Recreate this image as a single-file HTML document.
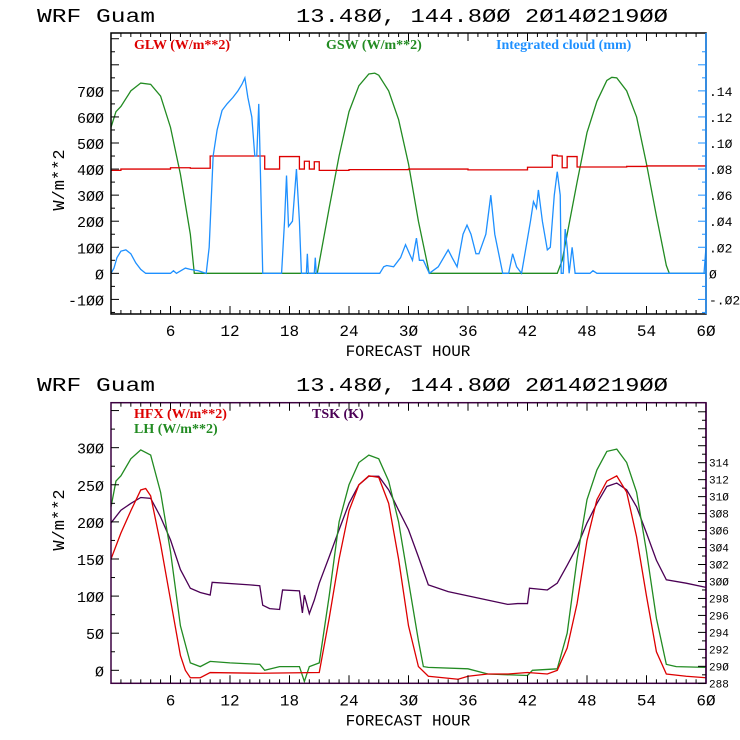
<!DOCTYPE html>
<html><head><meta charset="utf-8"><style>
html,body{margin:0;padding:0;background:#fff;}
svg{display:block;}
text{font-family:"Liberation Mono",monospace;}
.lg{font-family:"Liberation Serif",serif;font-weight:bold;font-size:14px;}
</style></head><body>
<svg id="c" width="740" height="740" viewBox="0 0 740 740" xmlns="http://www.w3.org/2000/svg"></svg>
<script>
// ---- Top chart data ----
const gswHours = [0,0.5,1,2,3,4,5,6,7,8,8.4,20.8,22,23,24,25,26,26.6,27,28,29,30,31,32.1,45,45.5,46,47,48,49,50,50.5,51,52,53,54,55,56,56.3,60];
const gswVals  = [560,620,640,700,730,725,680,560,380,150,0,0,250,450,620,720,765,768,760,700,590,420,200,0,0,50,150,350,540,660,740,752,750,700,600,420,220,30,0,0];
const glwHours = [0,1,6,8,10,15.5,17,19,19.5,20,20.5,21,24,30,36,42,44.5,45,45.5,46,47,52,54,60];
const glwVals  = [395,400,405,403,450,400,448,400,430,400,428,395,398,400,397,407,453,450,405,448,408,410,412,410];
const cloudHours = [0,0.3,0.6,1,1.5,2,2.5,3,3.5,6,6.3,6.6,7.5,8,8.8,9.6,9.9,10.3,10.7,11.2,11.7,12.3,12.8,13.2,13.5,13.8,14.2,14.5,14.7,14.9,15.0,15.3,17.2,17.5,17.7,17.9,18.3,18.7,19.0,19.2,19.7,19.8,19.9,20.2,20.5,20.6,20.7,27.1,27.5,27.8,28.5,29.2,29.7,30.1,30.4,30.8,31.1,31.5,32.1,33,34,34.4,34.9,35.5,35.9,36.3,36.8,37.1,37.8,38.3,38.7,39.5,40.1,40.5,40.9,41.4,42.3,42.6,42.9,43.1,43.5,44,44.3,44.7,45,45.3,45.4,45.6,45.8,46.0,46.2,46.5,46.8,48.3,48.6,49,59.6,59.8,60];
const cloudVals  = [0,0.004,0.012,0.017,0.018,0.015,0.008,0.003,0,0,0.002,0,0.004,0.003,0.002,0,0.02,0.09,0.11,0.125,0.13,0.135,0.14,0.145,0.15,0.135,0.12,0.09,0.09,0.13,0.1,0,0,0.04,0.075,0.036,0.04,0.08,0.04,0,0,0.015,0,0,0,0.012,0,0,0.005,0.006,0.005,0.012,0.022,0.015,0.01,0.027,0.01,0.01,0,0.005,0.018,0.012,0.005,0.03,0.037,0.03,0.015,0.015,0.03,0.06,0.03,0,0,0.015,0.005,0,0.04,0.055,0.05,0.064,0.04,0.018,0.02,0.06,0.078,0.06,0,0,0.034,0.02,0,0.02,0,0,0.002,0,0,0,0.02,0];
const topLeftTicks = [-100,0,100,200,300,400,500,600,700];
const topRightTicks = [-0.02,0,0.02,0.04,0.06,0.08,0.10,0.12,0.14];
const topRightLabels = ["-.02","0",".02",".04",".06",".08",".10",".12",".14"];
// ---- Bottom chart data ----
const hfxHours = [0,1,2,3,3.5,4,5,6,7,7.5,8,9,10,15,21,22,23,24,25,26,27,28,29,30,31,32,35,36,38,40,42,44,45,46,47,48,49,50,51,52,53,54,55,56,58,60];
const hfxVals  = [150,185,215,243,245,235,170,95,20,0,-10,-10,-3,-4,-3,70,150,215,250,262,260,225,150,60,5,-8,-12,-8,-5,-5,-3,-5,0,30,90,175,230,255,262,240,180,100,25,-5,-8,-10];
const lhHours = [0,0.5,1,2,3,4,5,6,7,8,9,10,12,15,15.5,17,19,19.5,20,21,22,23,24,25,26,27,28,29,30,31,31.5,32,36,38,42,42.5,45,46,47,48,49,50,51,52,53,54,55,56,57,60];
const lhVals  = [220,255,262,285,297,290,240,160,60,10,5,12,10,8,0,5,5,-15,5,10,100,200,250,280,290,285,255,200,120,40,5,4,2,-5,-7,0,2,50,150,230,270,295,298,280,240,160,70,8,5,4];
const tskHours = [0,1,2,3,4,5,6,7,8,9,10,10.2,14,15,15.3,16,17,17.3,19,19.3,19.5,20,20.5,21,22,23,24,25,26,27,28,29,30,31,32,34,36,38,40,41,42,42.2,44,45,46,47,48,49,50,51,52,53,54,55,56,58,60];
const tskVals  = [306.9,308.4,309.2,309.9,309.8,307.6,304.9,301.4,299.2,298.7,298.4,299.9,299.6,299.5,297.2,296.8,296.7,299.0,298.9,296.3,298.4,296.2,297.8,299.8,302.9,306.1,309.2,311.4,312.4,312.4,310.8,308.4,306.1,302.9,299.6,298.8,298.3,297.8,297.3,297.4,297.4,299.2,299.0,299.8,301.9,304.1,306.9,309.2,311.2,311.6,310.8,308.8,305.7,302.5,300.2,299.8,299.3];
const botLeftTicks = [0,50,100,150,200,250,300];
const botRightTicks = [288,290,292,294,296,298,300,302,304,306,308,310,312,314];
const xTicks = [6,12,18,24,30,36,42,48,54,60];

const NS="http://www.w3.org/2000/svg";
const svg=document.getElementById('c');
function el(tag,attrs,parent){const e=document.createElementNS(NS,tag);for(const k in attrs)e.setAttribute(k,attrs[k]);(parent||svg).appendChild(e);return e;}
function txt(s,x,y,attrs,parent){const t=el('text',Object.assign({x:x,y:y},attrs),parent);t.textContent=s;return t;}

const X0=111,X1=706;
function xs(h){return X0+(X1-X0)*h/60;}

function chart(top,bottom,lmin,lmax,rmin,rmax,frameColor,rightColor,name){
  const g=el('g',{});
  
  
  const ly=v=>bottom-(v-lmin)/(lmax-lmin)*(bottom-top);
  const ry=v=>bottom-(v-rmin)/(rmax-rmin)*(bottom-top);
  return {g,ly,ry,top,bottom,frameColor,rightColor};
}
function frame(c){
  const f=el('rect',{x:X0,y:c.top,width:X1-X0,height:c.bottom-c.top,fill:'none',stroke:c.frameColor,'stroke-width':1.5},c.g);
  
  
  el('line',{x1:X1,y1:c.top,x2:X1,y2:c.bottom,stroke:c.rightColor,'stroke-width':1.5},c.g);
  for(let h=1;h<60;h++){
    const L=(h%6===0)?8:4;
    el('line',{x1:xs(h),y1:c.bottom,x2:xs(h),y2:c.bottom-L,stroke:'#000'},c.g);
    el('line',{x1:xs(h),y1:c.top,x2:xs(h),y2:c.top+L,stroke:'#000'},c.g);
  }
  xTicks.forEach(h=>{const t=txt(String(h).replace(/0/g,'Ø'),xs(h),c.bottom+22,{'font-size':16,'text-anchor':'middle',fill:'#000'},c.g);
    });
  const xt=txt('FORECAST HOUR',408,c.bottom+42,{'font-size':16,'text-anchor':'middle',fill:'#000'},c.g);
  
}
function line(c,hs,vs,yf,color,step,name){
  let d='';
  for(let i=0;i<hs.length;i++){
    const x=xs(hs[i]),y=yf(vs[i]);
    if(i===0)d+='M'+x+' '+y;
    else if(step)d+='H'+x+'V'+y;
    else d+='L'+x+' '+y;
  }
  if(step)d+='H'+xs(60);
  const p=el('path',{d:d,fill:'none',stroke:color,'stroke-width':1.3},c.g);
  
  
}
function title(y){
  const a=txt('WRF  Guam',37,y,{'font-size':19,fill:'#000','xml:space':'preserve','textLength':118,'lengthAdjust':'spacingAndGlyphs'});
  
  const b=txt('13.48Ø, 144.8ØØ  2Ø14Ø219ØØ',296,y,{'font-size':19,fill:'#000','xml:space':'preserve','textLength':372,'lengthAdjust':'spacingAndGlyphs'});
  
}
function ylabel(x,y){
  const t=txt('W/m**2',x,y,{'font-size':17,fill:'#000','text-anchor':'middle',transform:'rotate(-90 '+x+' '+y+')'});
  
}

// Top chart
title(22);
const c1=chart(33,314,-156,922,-0.0312,0.1844,'#000','#1e90ff','top-chart');
line(c1,gswHours,gswVals,c1.ly,'#228b22',false,'gsw-line');
line(c1,glwHours,glwVals,c1.ly,'#dd0000',true,'glw-line');
line(c1,cloudHours,cloudVals,c1.ry,'#1e90ff',false,'cloud-line');
frame(c1);
for(let v=-150;v<=900;v+=50){const y=c1.ly(v);el('line',{x1:X0,y1:y,x2:X0+(v%100===0?8:4),y2:y,stroke:'#000'},c1.g);}
topLeftTicks.forEach(v=>{const t=txt(String(v).replace(/0/g,'Ø'),104,c1.ly(v)+6,{'font-size':15,'text-anchor':'end',fill:'#000'},c1.g);
  });
for(let v=-0.03;v<=0.18;v+=0.01){const y=c1.ry(v);const maj=Math.round(v*100)%2===0;el('line',{x1:X1,y1:y,x2:X1-(maj?8:4),y2:y,stroke:'#1e90ff'},c1.g);}
topRightTicks.forEach((v,i)=>{const t=txt(topRightLabels[i].replace(/0/g,'Ø'),709,c1.ry(v)+5,{'font-size':13,fill:'#000'},c1.g);
  });
ylabel(64,180);
[['GLW (W/m**2)',134,'#dd0000','legend-glw'],['GSW (W/m**2)',326,'#228b22','legend-gsw'],['Integrated cloud (mm)',496,'#1e90ff','legend-cloud']].forEach(a=>{
  const t=txt(a[0],a[1],49,{'class':'lg',fill:a[2]},c1.g);});

// Bottom chart
title(391);
const c2=chart(402.7,683.3,-17.5,360.6,288,321.06,'#3c0040','#3c0040','bottom-chart');
c2.ry=v=>683.3-(v-288)*16.97/2;
line(c2,tskHours,tskVals,c2.ry,'#4b0055',false,'tsk-line');
line(c2,lhHours,lhVals,c2.ly,'#228b22',false,'lh-line');
line(c2,hfxHours,hfxVals,c2.ly,'#dd0000',false,'hfx-line');
frame(c2);
for(let v=0;v<=350;v+=25){const y=c2.ly(v);el('line',{x1:X0,y1:y,x2:X0+(v%50===0?8:4),y2:y,stroke:'#000'},c2.g);}
botLeftTicks.forEach(v=>{const t=txt(String(v).replace(/0/g,'Ø'),104,c2.ly(v)+6,{'font-size':15,'text-anchor':'end',fill:'#000'},c2.g);
  });
for(let v=288;v<=320;v+=1){const y=c2.ry(v);el('line',{x1:X1,y1:y,x2:X1-(v%2===0?8:4),y2:y,stroke:'#000'},c2.g);}
botRightTicks.forEach(v=>{const t=txt(String(v).replace(/0/g,'Ø'),709,c2.ry(v)+4,{'font-size':11,fill:'#000'},c2.g);
  });
ylabel(64,520);
[['HFX (W/m**2)',134,418,'#dd0000','legend-hfx'],['LH  (W/m**2)',134,433,'#228b22','legend-lh'],['TSK (K)',312,418,'#4b0055','legend-tsk']].forEach(a=>{
  const t=txt(a[0],a[1],a[2],{'class':'lg',fill:a[3],'xml:space':'preserve'},c2.g);});
</script>
</body></html>
